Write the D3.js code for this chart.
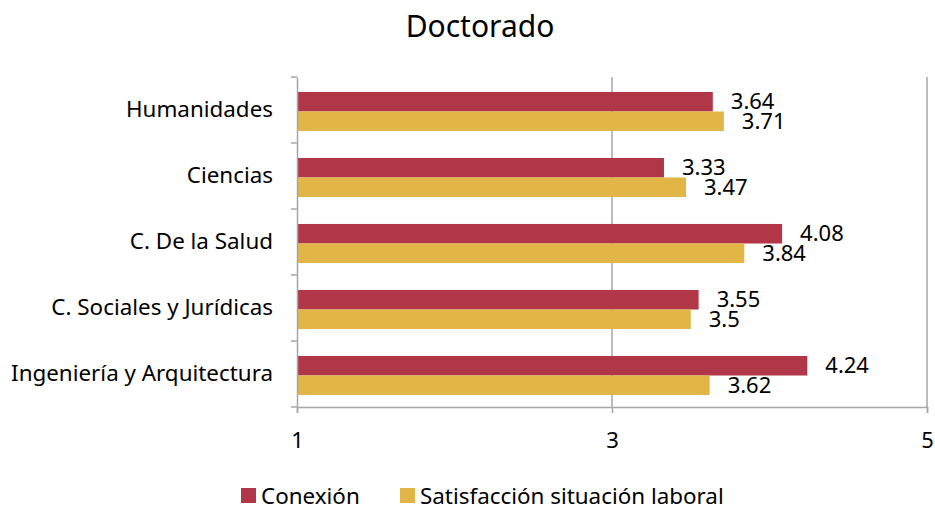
<!DOCTYPE html>
<html>
<head>
<meta charset="utf-8">
<script src="https://cdn.jsdelivr.net/npm/d3@7"></script>
<style>
  body { margin: 0; background: #fff; }
  text { font-family: "Noto Sans", "Open Sans", sans-serif; fill: #000; }
</style>
</head>
<body>
<svg id="chart" width="935" height="509"></svg>
<script>
// data
const categories = ["Humanidades", "Ciencias", "C. De la Salud", "C. Sociales y Jurídicas", "Ingeniería y Arquitectura"];
const seriesNames = ["Conexión", "Satisfacción situación laboral"];
const conexion = [3.64, 3.33, 4.08, 3.55, 4.24];
const satisfaccion = [3.71, 3.47, 3.84, 3.5, 3.62];
const xTicks = [1, 3, 5];
const colors = ["#B03648", "#E2B547"];

const svg = d3.select("#chart");
const margin = { left: 297, right: 8, top: 77, bottom: 102 };
const width = +svg.attr("width"), height = +svg.attr("height");

const x = d3.scaleLinear().domain([1, 5]).range([margin.left, width - margin.right]);
const y = d3.scaleBand().domain(categories).range([margin.top, height - margin.bottom]);
const sub = d3.scaleBand().domain(seriesNames)
  .range([0, y.bandwidth()]).paddingOuter(0.69).paddingInner(0);

const rows = categories.map((c, i) => ({ cat: c, vals: [conexion[i], satisfaccion[i]] }));

// title
svg.append("text").attr("x", 480).attr("y", 37)
  .attr("text-anchor", "middle").style("font-size", "30px").text("Doctorado");

// gridlines
svg.append("g").selectAll("line").data(xTicks.slice(1)).join("line")
  .attr("x1", d => x(d)).attr("x2", d => x(d))
  .attr("y1", margin.top).attr("y2", height - margin.bottom)
  .attr("stroke", "#a6a6a6").attr("stroke-width", 1.5);

// bars
const g = svg.append("g").selectAll("g").data(rows).join("g")
  .attr("transform", d => `translate(0,${y(d.cat) + 1.5})`);

g.selectAll("rect").data(d => d.vals.map((v, j) => ({ v, s: seriesNames[j], j }))).join("rect")
  .attr("x", x(1))
  .attr("y", d => sub(d.s))
  .attr("width", d => x(d.v) - x(1))
  .attr("height", sub.bandwidth())
  .attr("fill", d => colors[d.j]);

g.selectAll("text").data(d => d.vals.map((v, j) => ({ v, s: seriesNames[j] }))).join("text")
  .attr("x", d => x(d.v) + 18)
  .attr("y", d => sub(d.s) + sub.bandwidth() / 2)
  .attr("dy", "0.35em")
  .style("font-size", "22px")
  .text(d => d.v);

// x axis
const xAxis = svg.append("g")
  .attr("transform", `translate(0,${height - margin.bottom})`)
  .call(d3.axisBottom(x).tickValues(xTicks).tickSize(6).tickPadding(19).tickFormat(d3.format("d")));
xAxis.select(".domain").attr("stroke", "#a6a6a6").attr("stroke-width", 1.5);
xAxis.selectAll(".tick line").attr("stroke", "#a6a6a6").attr("stroke-width", 1.5);
xAxis.selectAll(".tick text").style("font-size", "22px").attr("fill", "#000");

// y axis
const yAxis = svg.append("g")
  .attr("transform", `translate(${margin.left},0)`)
  .call(d3.axisLeft(y).tickSize(0).tickPadding(24));
yAxis.select(".domain").attr("stroke", "#a6a6a6").attr("stroke-width", 1.5);
yAxis.selectAll(".tick text").style("font-size", "22.4px").attr("fill", "#000");
// tick marks at band boundaries
const bounds = categories.map(c => y(c)).concat([y.range()[1]]);
yAxis.selectAll(".bound").data(bounds).join("line").attr("class", "bound")
  .attr("x1", -6).attr("x2", 0).attr("y1", d => d).attr("y2", d => d)
  .attr("stroke", "#a6a6a6").attr("stroke-width", 1.5);

// legend
const legendX = [241, 400];
const lg = svg.append("g").selectAll("g").data(seriesNames).join("g")
  .attr("transform", (d, i) => `translate(${legendX[i]},488)`);
lg.append("rect").attr("width", 15).attr("height", 15).attr("fill", (d, i) => colors[i]);
lg.append("text").attr("x", 20).attr("y", 8).attr("dy", "0.35em")
  .style("font-size", "22.4px").text(d => d);
</script>
</body>
</html>
